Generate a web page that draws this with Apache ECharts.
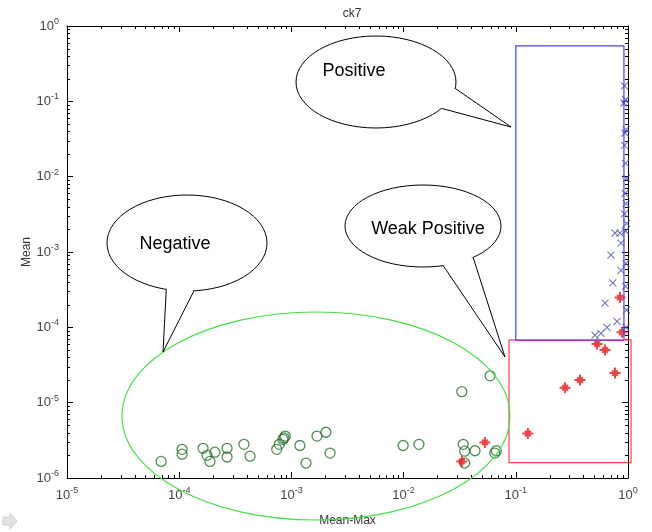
<!DOCTYPE html>
<html>
<head>
<meta charset="utf-8">
<script src="https://cdn.jsdelivr.net/npm/echarts@6/dist/echarts.min.js"></script>
<style>
html, body { margin: 0; padding: 0; background: #fff; }
#main { width: 652px; height: 532px; }
</style>
</head>
<body>
<div id="main"></div>
<script>
// [Mean-Max, Mean] pairs
const negativePts = [
  [6.9e-5, 1.66e-6], [1.06e-4, 2.4e-6], [1.06e-4, 2.07e-6], [1.63e-4, 2.48e-6],
  [1.77e-4, 2.0e-6], [1.88e-4, 1.66e-6], [2.08e-4, 2.2e-6], [2.67e-4, 2.48e-6],
  [2.67e-4, 1.9e-6], [3.78e-4, 2.8e-6], [4.28e-4, 1.95e-6], [7.4e-4, 2.4e-6],
  [7.8e-4, 2.8e-6], [8.4e-4, 3.25e-6], [8.6e-4, 3.4e-6], [8.8e-4, 3.6e-6],
  [1.19e-3, 2.7e-6], [1.35e-3, 1.58e-6], [1.69e-3, 3.6e-6], [2.03e-3, 4.05e-6],
  [2.21e-3, 2.14e-6], [9.9e-3, 2.7e-6], [1.37e-2, 2.8e-6], [0.033, 1.4e-5],
  [0.059, 2.27e-5], [0.034, 2.8e-6], [0.035, 2.27e-6], [0.0433, 2.3e-6],
  [0.035, 1.58e-6], [0.065, 2.14e-6], [0.067, 2.3e-6]
];
const weakPts = [
  [0.033, 1.66e-6], [0.053, 2.97e-6], [0.128, 3.9e-6], [0.275, 1.58e-5],
  [0.373, 2.0e-5], [0.53, 6.0e-5], [0.624, 5.0e-5], [0.766, 2.47e-5],
  [0.849, 2.48e-4], [0.885, 8.6e-5]
];
const positivePts = [
  [0.93, 0.16], [0.95, 0.105], [0.92, 0.095], [0.96, 0.042], [0.94, 0.038],
  [0.93, 0.026], [0.95, 0.015], [0.97, 0.0095], [0.94, 0.006], [0.96, 0.0044],
  [0.93, 0.0032], [0.97, 0.0024], [0.95, 0.0019], [0.96, 7.0e-4], [0.95, 3.5e-4],
  [0.97, 1.7e-4], [0.96, 1.0e-4],
  [0.766, 1.78e-3], [0.849, 1.78e-3], [0.866, 1.31e-3], [0.705, 9.1e-4],
  [0.866, 5.7e-4], [0.732, 3.9e-4], [0.624, 2.1e-4], [0.798, 1.2e-4],
  [0.65, 1.0e-4], [0.574, 8.3e-5], [0.508, 7.9e-5]
];
const xRange = [1e-5, 1];
const yRange = [1e-6, 1];
// threshold boxes in data space: [xMin, yMin, xMax, yMax]
const positiveBox = [0.1, 6.7e-5, 0.92, 0.546];
const weakBox = [0.087, 1.6e-6, 1.065, 6.8e-5];

const font = 'Liberation Sans, Arial, sans-serif';

function expLabel(v) {
  const e = Math.round(Math.log10(v));
  return '10{e|' + e + '}';
}
const labelRich = { e: { fontSize: 9, padding: [0, 0, 9, 0], color: '#444', fontFamily: font } };

function axisBase(pos, range, showLabel) {
  return {
    type: 'log',
    logBase: 10,
    min: range[0],
    max: range[1],
    position: pos,
    axisLine: { onZero: false, lineStyle: { color: '#000', width: 1 } },
    axisTick: { inside: true, length: 6, lineStyle: { color: '#000' } },
    splitLine: { show: false },
    axisLabel: {
      show: showLabel,
      formatter: expLabel,
      rich: labelRich,
      color: '#444',
      fontSize: 13,
      fontFamily: font
    }
  };
}

const chart = echarts.init(document.getElementById('main'));

const xBottom = axisBase('bottom', xRange, true);
xBottom.name = 'Mean-Max';
xBottom.nameLocation = 'middle';
xBottom.nameGap = 37;
xBottom.nameTextStyle = { color: '#333', fontSize: 12, fontFamily: font };
xBottom.axisLabel.margin = 8;
const yLeft = axisBase('left', yRange, true);
yLeft.axisLabel.margin = 8;

chart.setOption({
  animation: false,
  title: {
    text: 'ck7',
    left: 347,
    textAlign: 'center',
    top: 3,
    textStyle: { color: '#333', fontSize: 12, fontWeight: 'normal', fontFamily: font }
  },
  grid: { left: 67, right: 24, top: 26, bottom: 50 },
  xAxis: [xBottom, axisBase('top', xRange, false)],
  yAxis: [yLeft, axisBase('right', yRange, false)],
  series: [
    {
      name: 'Negative',
      type: 'scatter',
      data: negativePts,
      symbol: 'circle',
      symbolSize: 10,
      itemStyle: { color: 'rgba(0,0,0,0)', borderColor: '#24702a', borderWidth: 1.3 }
    },
    {
      name: 'Weak Positive',
      type: 'scatter',
      data: weakPts,
      symbol: 'path://M5,0L5,10M0,5L10,5M2.5,2.5L7.5,7.5M2.5,7.5L7.5,2.5',
      symbolSize: 11,
      itemStyle: { color: '#ee1111', borderColor: '#ee1111', borderWidth: 2 }
    },
    {
      name: 'Positive',
      type: 'scatter',
      data: positivePts,
      symbol: 'path://M0,0L10,10M0,10L10,0',
      symbolSize: 7,
      itemStyle: { color: '#5050a8', borderColor: '#5050a8', borderWidth: 1.1 }
    }
  ]
});

// minor ticks, boxes and speech bubbles placed through the axis scales
function px(x, y) {
  return chart.convertToPixel({ xAxisIndex: 0, yAxisIndex: 0 }, [x, y]);
}

const g = [];
const tl = px(xRange[0], yRange[1]);
const br = px(xRange[1], yRange[0]);
const tickStyle = { stroke: '#000', lineWidth: 1 };

for (let k = -5; k < 0; k++) {
  for (let m = 2; m <= 9; m++) {
    const p = px(m * Math.pow(10, k), yRange[0]);
    const x = Math.round(p[0]) + 0.5;
    g.push({ type: 'line', shape: { x1: x, y1: br[1], x2: x, y2: br[1] - 3 }, style: tickStyle, silent: true });
    g.push({ type: 'line', shape: { x1: x, y1: tl[1], x2: x, y2: tl[1] + 3 }, style: tickStyle, silent: true });
  }
}
for (let k = -6; k < 0; k++) {
  for (let m = 2; m <= 9; m++) {
    const p = px(xRange[0], m * Math.pow(10, k));
    const y = Math.round(p[1]) + 0.5;
    g.push({ type: 'line', shape: { x1: tl[0], y1: y, x2: tl[0] + 3, y2: y }, style: tickStyle, silent: true });
    g.push({ type: 'line', shape: { x1: br[0], y1: y, x2: br[0] - 3, y2: y }, style: tickStyle, silent: true });
  }
}

// y axis name, rotated
g.push({
  type: 'text',
  x: 27,
  y: (tl[1] + br[1]) / 2,
  rotation: Math.PI / 2,
  style: { text: 'Mean', align: 'center', verticalAlign: 'middle', fontSize: 12, fontFamily: font, fill: '#333' }
});

function box(b, color) {
  const a = px(b[0], b[3]);
  const c = px(b[2], b[1]);
  g.push({
    type: 'rect',
    shape: { x: a[0], y: a[1], width: c[0] - a[0], height: c[1] - a[1] },
    style: { fill: 'none', stroke: color, lineWidth: 1.2 },
    z: 50
  });
}
box(positiveBox, '#4040ff');
box(weakBox, '#ff4040');

// green ellipse around the negatives
g.push({
  type: 'ellipse',
  shape: { cx: 316, cy: 416, rx: 194, ry: 104 },
  style: { fill: 'none', stroke: '#44e044', lineWidth: 1.2 },
  z: 50
});

function bubble(cx, cy, rx, ry, a1, a2, tip, text, tx, ty) {
  const r1 = a1 * Math.PI / 180, r2 = a2 * Math.PI / 180;
  const p1 = [cx + rx * Math.cos(r1), cy + ry * Math.sin(r1)];
  const p2 = [cx + rx * Math.cos(r2), cy + ry * Math.sin(r2)];
  g.push({
    type: 'ellipse',
    shape: { cx: cx, cy: cy, rx: rx, ry: ry },
    style: { fill: '#fff', stroke: '#000', lineWidth: 1 },
    z: 60
  });
  g.push({
    type: 'polygon',
    shape: { points: [p1, tip, p2, [cx + (p1[0] + p2[0] - 2 * cx) * 0.9 / 2, cy + (p1[1] + p2[1] - 2 * cy) * 0.9 / 2]] },
    style: { fill: '#fff', stroke: 'none' },
    z: 61
  });
  g.push({
    type: 'polyline',
    shape: { points: [p1, tip, p2] },
    style: { fill: 'none', stroke: '#000', lineWidth: 1 },
    z: 62
  });
  g.push({
    type: 'text',
    style: { text: text, x: tx, y: ty, align: 'center', verticalAlign: 'middle', fontSize: 18, fontFamily: font, fill: '#000' },
    z: 63
  });
}
bubble(376, 82, 80, 46, 8, 35, [511, 127], 'Positive', 354, 71);
bubble(423, 226, 78, 41, 50, 75, [505, 357], 'Weak Positive', 428, 229);
bubble(187, 243, 80, 48, 85, 105, [163, 352], 'Negative', 175, 244);

// small grey arrow glyph in the lower-left corner
g.push({
  type: 'polygon',
  shape: { points: [[3, 517], [10, 517], [10, 513], [17, 521], [10, 529], [10, 525], [3, 525]] },
  style: { fill: '#e2e2e2', stroke: '#cfcfcf', lineWidth: 1 }
});

chart.setOption({ graphic: g });
</script>
</body>
</html>
